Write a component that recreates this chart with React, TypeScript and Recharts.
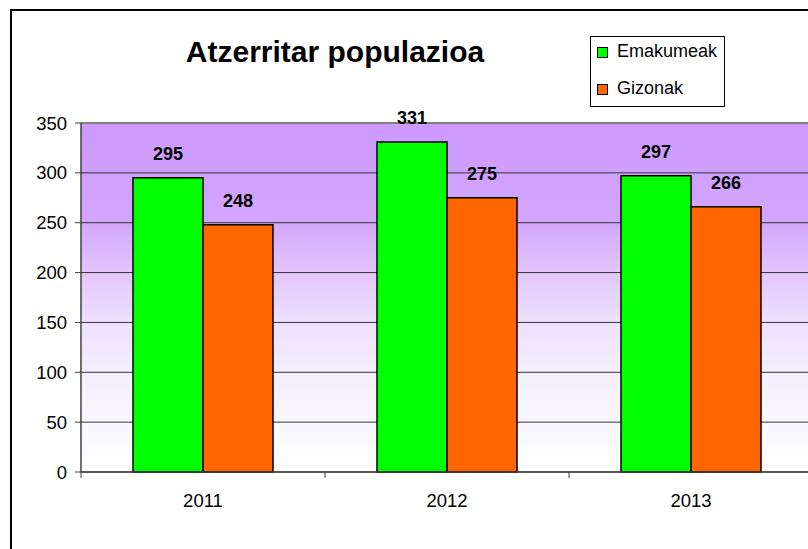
import { BarChart, Bar, XAxis, YAxis, CartesianGrid, LabelList, ReferenceLine } from "recharts";

const years = ["2011", "2012", "2013"];
const emakumeak = [295, 331, 297];
const gizonak = [248, 275, 266];
const yTicks = [0, 50, 100, 150, 200, 250, 300, 350];

const data = years.map((year, i) => ({ year, emakumeak: emakumeak[i], gizonak: gizonak[i] }));

const FONT = "'Liberation Sans', Arial, sans-serif";
const CHART_W = 830;
const CHART_H = 549;
const MARGIN = { top: 123, right: 17, bottom: 47, left: 21 };
const Y_WIDTH = 60;
const HALF_BAND = (CHART_W - MARGIN.left - MARGIN.right - Y_WIDTH) / years.length / 2;

function YearTick(props: any) {
  const { x, y, payload } = props;
  return (
    <g>
      <line x1={x - HALF_BAND} y1={y} x2={x - HALF_BAND} y2={y + 6} stroke="#404040" strokeWidth={1} />
      <text x={x} y={y + 35} textAnchor="middle" fontFamily={FONT} fontSize={18.5} fill="#000">
        {payload.value}
      </text>
    </g>
  );
}

function LegendBox() {
  const items = [
    { name: "Emakumeak", color: "#00ff00", top: 47 },
    { name: "Gizonak", color: "#ff6600", top: 84 },
  ];
  return (
    <div
      style={{
        position: "absolute",
        left: 590,
        top: 36,
        width: 133,
        height: 69,
        border: "1px solid #000",
        background: "#fff",
      }}
    >
      {items.map((it) => (
        <div key={it.name}>
          <div
            style={{
              position: "absolute",
              left: 6,
              top: it.top - 36 - 1,
              width: 9,
              height: 9,
              background: it.color,
              border: "1px solid #000",
            }}
          />
          <div
            style={{
              position: "absolute",
              left: 26,
              top: it.top - 36 - 8,
              fontFamily: FONT,
              fontSize: 18,
              lineHeight: "22px",
              color: "#000",
              whiteSpace: "nowrap",
            }}
          >
            {it.name}
          </div>
        </div>
      ))}
    </div>
  );
}

export default function App() {
  return (
    <div style={{ position: "fixed", left: 0, top: 0, width: 808, height: 549, overflow: "hidden", background: "#fff" }}>
      <div
        style={{
          position: "absolute",
          left: 10,
          top: 9,
          width: 900,
          height: 700,
          border: "2px solid #000",
          boxSizing: "border-box",
        }}
      />
      <div style={{ position: "absolute", left: 0, top: 0 }}>
        <BarChart width={CHART_W} height={CHART_H} data={data} margin={MARGIN} barGap={0}>
          <defs>
            <linearGradient id="plotBg" x1="0" y1="0" x2="0" y2="1">
              <stop offset="0%" stopColor="#cc99ff" />
              <stop offset="28%" stopColor="#d3a6fd" />
              <stop offset="43%" stopColor="#e2c6fc" />
              <stop offset="57%" stopColor="#ede0fd" />
              <stop offset="71%" stopColor="#f4eefe" />
              <stop offset="86%" stopColor="#f9f7ff" />
              <stop offset="100%" stopColor="#ffffff" />
            </linearGradient>
          </defs>
          <CartesianGrid vertical={false} stroke="#333" strokeWidth={1} fill="url(#plotBg)" fillOpacity={1} />
          <ReferenceLine y={350} stroke="#808080" strokeWidth={2} />
          <XAxis
            dataKey="year"
            height={30}
            axisLine={{ stroke: "#404040", strokeWidth: 1.5 }}
            tickLine={false}
            tickSize={0}
            tickMargin={0}
            tick={<YearTick />}
            interval={0}
          />
          <YAxis
            width={Y_WIDTH}
            domain={[0, 350]}
            ticks={yTicks}
            interval={0}
            axisLine={{ stroke: "#404040", strokeWidth: 1.5 }}
            tickLine={{ stroke: "#404040" }}
            tickSize={6}
            tickMargin={8}
            tick={{ fontFamily: FONT, fontSize: 18.5, fill: "#000" }}
          />
          <Bar dataKey="emakumeak" barSize={70} fill="#00ff00" stroke="#000" strokeWidth={1.5} isAnimationActive={false}>
            <LabelList dataKey="emakumeak" position="top" offset={18} fontFamily={FONT} fontSize={18} fontWeight="bold" fill="#000" />
          </Bar>
          <Bar dataKey="gizonak" barSize={70} fill="#ff6600" stroke="#000" strokeWidth={1.5} isAnimationActive={false}>
            <LabelList dataKey="gizonak" position="top" offset={18} fontFamily={FONT} fontSize={18} fontWeight="bold" fill="#000" />
          </Bar>
        </BarChart>
      </div>
      <svg style={{ position: "absolute", left: 0, top: 0 }} width={808} height={100}>
        <text x={335} y={62} textAnchor="middle" fontFamily={FONT} fontSize={30} fontWeight="bold" fill="#000">
          Atzerritar populazioa
        </text>
      </svg>
      <LegendBox />
    </div>
  );
}
